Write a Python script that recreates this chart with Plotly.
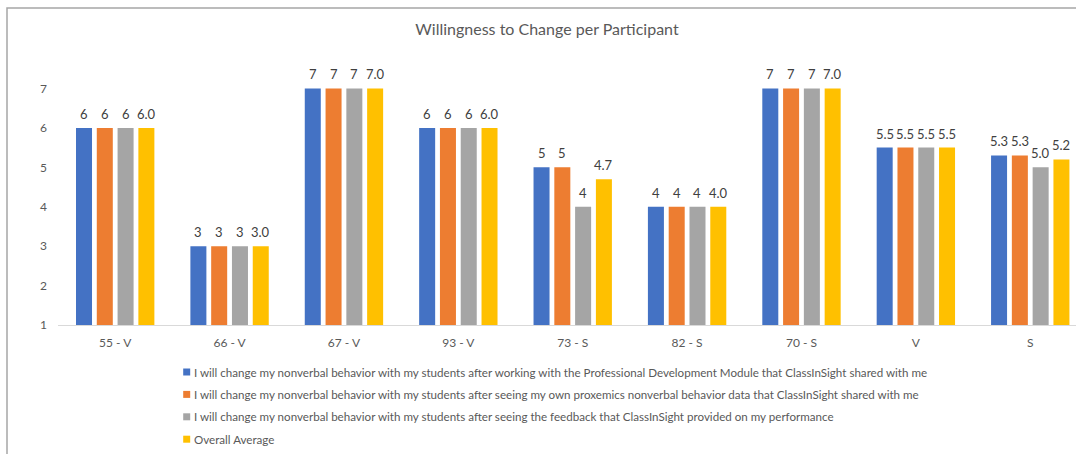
import plotly.graph_objects as go

# Categories (participants, then group summaries)
categories = ["55 - V", "66 - V", "67 - V", "93 - V", "73 - S", "82 - S", "70 - S", "V", "S"]
summary_categories = ["V", "S"]

series_names = [
    "I will change my nonverbal behavior with my students after working with the Professional Development Module that ClassInSight shared with me",
    "I will change my nonverbal behavior with my students after seeing my own proxemics nonverbal behavior data that ClassInSight shared with me",
    "I will change my nonverbal behavior with my students after seeing the feedback that ClassInSight provided on my performance",
    "Overall Average",
]
pd_module = [6, 3, 7, 6, 5, 4, 7, 5.5, 5.3]
proxemics_data = [6, 3, 7, 6, 5, 4, 7, 5.5, 5.3]
feedback = [6, 3, 7, 6, 4, 4, 7, 5.5, 5.0]
overall_avg = [6.0, 3.0, 7.0, 6.0, 4.7, 4.0, 7.0, 5.5, 5.2]

series_values = [pd_module, proxemics_data, feedback, overall_avg]
colors = ["#4472C4", "#ED7D31", "#A5A5A5", "#FFC000"]

y_ticks = [1, 2, 3, 4, 5, 6, 7]

FONT = "Lato"
TEXT_DARK = "#404040"
TEXT_MID = "#595959"

# page geometry (px)
W, H = 1076, 454
L, R, T, B = 58, 0, 53, 129
PW, PH = W - L - R, H - T - B

X_RANGE = [-0.5, 8.4]
BARGAP = 0.273
BARGROUPGAP = 0.23


def px_x(x):
    return (x - L) / PW


def px_y(y):
    return (H - B - y) / PH


def fmt(v, cat, is_avg):
    # averages and group summaries carry one decimal place
    if is_avg or cat in summary_categories:
        return f"{v:.1f}"
    return f"{v:g}"


# pixel offset of each bar's centre inside its category group
cat_px = PW / (X_RANGE[1] - X_RANGE[0])
slot_px = cat_px * (1 - BARGAP) / len(series_values)

fig = go.Figure()
annotations = []
for i, (name, vals, col) in enumerate(zip(series_names, series_values, colors)):
    is_avg = i == len(series_names) - 1
    fig.add_trace(go.Bar(
        x=categories,
        y=vals,
        name=name,
        marker=dict(color=col, line=dict(width=0)),
        showlegend=False,
    ))
    # value labels above each bar
    shift = (i - (len(series_values) - 1) / 2) * slot_px
    for c, v in zip(categories, vals):
        annotations.append(dict(
            x=c, y=v, xref="x", yref="y",
            xshift=shift, yshift=14,
            xanchor="center", yanchor="middle",
            text=fmt(v, c, is_avg), showarrow=False,
            font=dict(family=FONT, size=13, color=TEXT_DARK),
        ))

# legend drawn as small squares with labels underneath the plot
legend_x = 186.7
legend_y0 = 372
legend_step = 22.4
sq = 7
shapes = []
for i, (name, col) in enumerate(zip(series_names, colors)):
    cy = legend_y0 + i * legend_step
    shapes.append(dict(
        type="rect", xref="paper", yref="paper",
        x0=px_x(legend_x - sq / 2), x1=px_x(legend_x + sq / 2),
        y0=px_y(cy + sq / 2), y1=px_y(cy - sq / 2),
        fillcolor=col, line=dict(width=0),
    ))
    annotations.append(dict(
        xref="paper", yref="paper",
        x=px_x(legend_x + sq / 2 + 1.5), y=px_y(cy),
        xanchor="left", yanchor="middle",
        text=name, showarrow=False,
        font=dict(family=FONT, size=11.6, color=TEXT_MID),
    ))

# chart frame
shapes.append(dict(
    type="rect", xref="paper", yref="paper",
    x0=px_x(7), x1=px_x(W + 200), y0=px_y(H + 200), y1=px_y(8),
    line=dict(color="#A6A6A6", width=1.5), fillcolor="rgba(0,0,0,0)",
    layer="below",
))

fig.update_layout(
    width=W, height=H,
    margin=dict(l=L, r=R, t=T, b=B, pad=0),
    paper_bgcolor="white", plot_bgcolor="white",
    font=dict(family=FONT, color=TEXT_MID),
    title=dict(
        text="Willingness to Change per Participant",
        x=547 / W, xanchor="center", xref="container",
        y=1 - 29 / H, yanchor="middle", yref="container",
        font=dict(family=FONT, size=16, color=TEXT_MID),
    ),
    barmode="group",
    bargap=BARGAP,
    bargroupgap=BARGROUPGAP,
    showlegend=False,
    shapes=shapes,
    annotations=annotations,
    xaxis=dict(
        type="category",
        range=X_RANGE,
        showline=True, linecolor="#D9D9D9", linewidth=1,
        showgrid=False, zeroline=False, ticks="",
        tickfont=dict(family=FONT, size=12, color=TEXT_MID),
        ticklabelstandoff=7,
    ),
    yaxis=dict(
        range=[1, 7.9],
        tickvals=y_ticks,
        showgrid=False, zeroline=False, showline=False, ticks="",
        tickfont=dict(family=FONT, size=12, color=TEXT_MID),
        ticklabelstandoff=10,
    ),
)

fig.write_html("out.html")
